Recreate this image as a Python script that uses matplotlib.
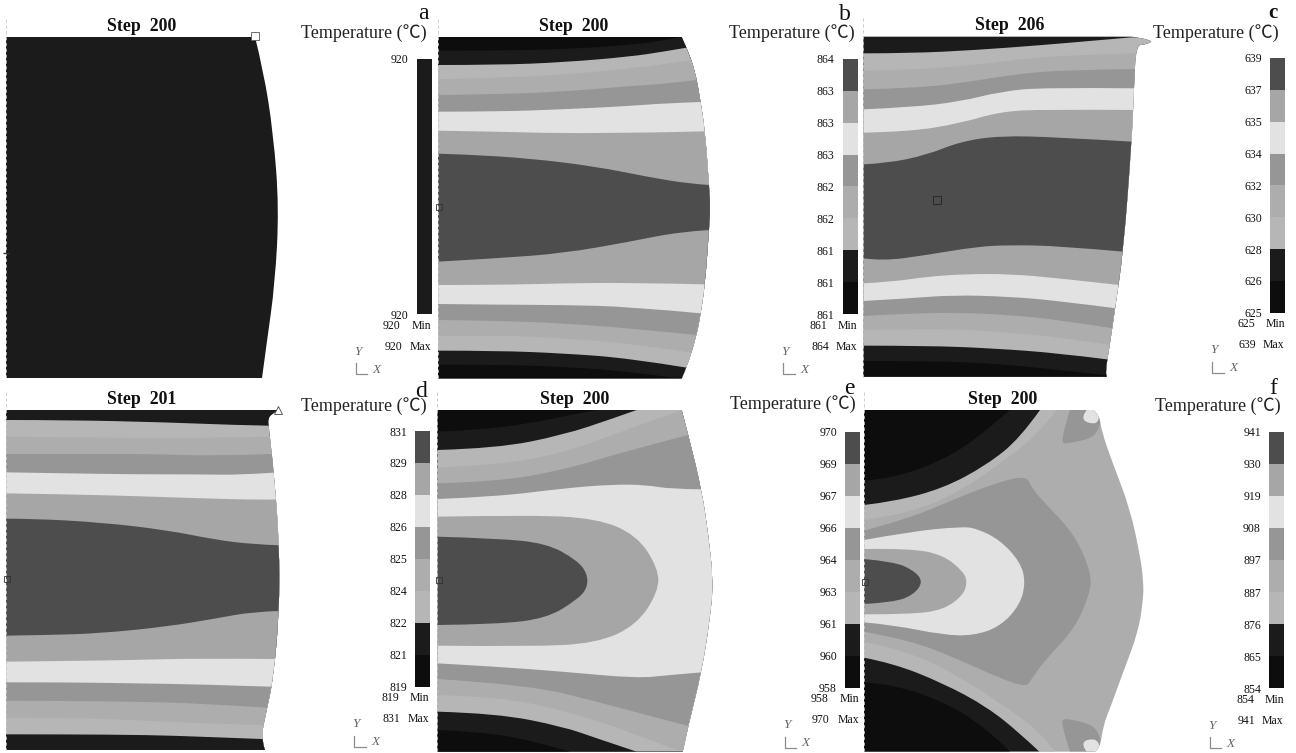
import matplotlib
matplotlib.use("Agg")
import matplotlib.pyplot as plt
from matplotlib.path import Path
from matplotlib.patches import PathPatch, Rectangle

W, H = 1296, 753
SERIF = ["Liberation Serif", "Noto Sans CJK SC", "DejaVu Sans"]
plt.rcParams["font.family"] = SERIF

# gray of each temperature band, 1 = coolest band of the colour bar
GRAYS = {1: "#0d0d0d", 2: "#1b1b1b", 3: "#b6b6b6", 4: "#adadad",
         5: "#969696", 6: "#e2e2e2", 7: "#a6a6a6", 8: "#4d4d4d"}

# colour bar labels, bottom to top
TICKS_A = ["920", "920"]
TICKS_B = ["861", "861", "861", "862", "862", "863", "863", "863", "864"]
TICKS_C = ["625", "626", "628", "630", "632", "634", "635", "637", "639"]
TICKS_D = ["819", "821", "822", "824", "825", "826", "828", "829", "831"]
TICKS_E = ["958", "960", "961", "963", "964", "966", "967", "969", "970"]
TICKS_F = ["854", "865", "876", "887", "897", "908", "919", "930", "941"]

# contour geometry below: picture coordinates of each panel, 3 units per pixel
# panel a
EDGE_A = [(765, 111), (790, 210), (820, 400), (837, 624), (825, 850), (800, 1030), (786, 1134)]

# panel b
EDGE_B = [(755, 111), (770, 143), (795, 210), (812, 306), (825, 394), (837, 555), (841, 624),
          (837, 690), (825, 853), (812, 940), (800, 1005), (770, 1103), (755, 1135)]
LEVELS_B = [2, 3, 4, 5, 6, 7, 8, 7, 6, 5, 4, 3, 2, 1]
BOUNDS_B = [
    [(24, 152), (200, 152), (400, 148), (600, 135), (700, 122), (755, 110)],
    [(24, 195), (200, 195), (400, 187), (600, 170), (700, 155), (770, 143)],
    [(24, 238), (200, 233), (400, 225), (600, 205), (700, 193), (790, 180)],
    [(24, 285), (200, 283), (400, 275), (600, 258), (700, 252), (800, 240)],
    [(24, 335), (200, 335), (400, 328), (600, 318), (700, 310), (812, 306)],
    [(24, 392), (200, 395), (400, 400), (600, 398), (700, 397), (825, 394)],
    [(24, 461), (100, 463), (300, 475), (500, 500), (650, 530), (780, 552), (840, 555)],
    [(24, 785), (200, 775), (400, 760), (600, 725), (750, 695), (840, 690)],
    [(24, 855), (200, 855), (400, 850), (600, 848), (825, 853)],
    [(24, 912), (200, 914), (400, 915), (600, 920), (812, 940)],
    [(24, 960), (200, 962), (400, 970), (600, 985), (800, 1005)],
    [(24, 1008), (200, 1005), (400, 1015), (600, 1030), (785, 1058)],
    [(24, 1052), (200, 1052), (400, 1060), (600, 1075), (770, 1103)],
    [(24, 1094), (200, 1094), (400, 1100), (600, 1115), (730, 1133)],
]

# panel c
EDGE_C = [(815, 110), (885, 120), (855, 135), (828, 135), (822, 265), (815, 425), (790, 755),
          (765, 925), (750, 1030), (735, 1120), (740, 1130)]
LEVELS_C = [3, 4, 5, 6, 7, 8, 7, 6, 5, 4, 3, 2, 1]
BOUNDS_C = [
    [(10, 160), (150, 160), (350, 150), (550, 135), (700, 122), (815, 112)],
    [(10, 212), (150, 210), (350, 195), (500, 175), (650, 165), (825, 160)],
    [(10, 268), (150, 265), (300, 250), (450, 225), (600, 210), (825, 207)],
    [(10, 328), (150, 322), (300, 305), (420, 275), (550, 262), (825, 265)],
    [(10, 398), (150, 395), (300, 370), (420, 335), (550, 328), (825, 330)],
    [(10, 493), (80, 490), (200, 465), (300, 425), (420, 407), (600, 412), (815, 425)],
    [(10, 775), (70, 783), (200, 765), (350, 740), (450, 735), (600, 738), (790, 755)],
    [(10, 850), (100, 845), (200, 830), (320, 822), (450, 822), (600, 835), (778, 855)],
    [(10, 903), (150, 895), (280, 885), (450, 890), (600, 903), (768, 925)],
    [(10, 948), (150, 940), (300, 938), (450, 945), (600, 960), (760, 985)],
    [(10, 990), (150, 988), (300, 988), (450, 998), (600, 1012), (752, 1035)],
    [(10, 1037), (200, 1037), (400, 1045), (600, 1060), (740, 1078)],
    [(10, 1083), (200, 1083), (400, 1090), (600, 1110), (735, 1125)],
]

# panel d
EDGE_D = [(835, 75), (815, 88), (805, 100), (806, 125), (822, 265), (838, 480), (838, 680),
          (820, 880), (800, 975), (782, 1060), (795, 1095)]
LEVELS_D = [3, 4, 5, 6, 7, 8, 7, 6, 5, 4, 3, 2]
BOUNDS_D = [
    [(18, 105), (200, 105), (500, 112), (700, 120), (805, 122)],
    [(18, 155), (300, 158), (600, 160), (810, 155)],
    [(18, 207), (300, 207), (450, 207), (650, 213), (815, 207)],
    [(18, 262), (200, 265), (400, 268), (600, 268), (720, 270), (820, 263)],
    [(18, 325), (200, 328), (400, 333), (600, 340), (800, 345), (828, 343)],
    [(18, 401), (100, 401), (300, 412), (500, 435), (650, 465), (760, 478), (838, 481)],
    [(18, 752), (150, 750), (300, 745), (500, 725), (650, 700), (760, 680), (838, 678)],
    [(18, 830), (200, 828), (400, 825), (600, 820), (820, 822)],
    [(18, 892), (200, 892), (400, 895), (600, 898), (810, 905)],
    [(18, 947), (200, 948), (400, 950), (600, 955), (800, 968)],
    [(18, 998), (200, 998), (400, 1005), (600, 1015), (785, 1020)],
    [(18, 1048), (200, 1048), (450, 1050), (600, 1055), (785, 1062)],
]

# panel e
EDGE_E = [(755, 75), (775, 150), (815, 315), (835, 450), (850, 590), (840, 700), (815, 860),
          (775, 1020), (758, 1100)]
LEVELS_E = [2, 3, 4, 5, 6, 5, 4, 3, 2, 1]
BOUNDS_E = [
    [(22, 140), (150, 135), (300, 115), (420, 90), (500, 75)],
    [(22, 195), (200, 190), (400, 150), (550, 100), (620, 75)],
    [(22, 248), (200, 240), (400, 205), (600, 130), (750, 77)],
    [(22, 295), (200, 290), (400, 255), (600, 195), (775, 150)],
    [(22, 342), (200, 335), (400, 310), (550, 298), (650, 300), (720, 312), (815, 313)],
    [(22, 835), (200, 845), (400, 860), (620, 880), (720, 870), (815, 862)],
    [(22, 882), (300, 900), (500, 950), (650, 990), (775, 1023)],
    [(22, 930), (200, 935), (400, 975), (600, 1040), (740, 1095)],
    [(22, 980), (200, 985), (400, 1025), (500, 1060), (620, 1100)],
    [(22, 1035), (150, 1040), (300, 1065), (420, 1100)],
]
LOOP_E7 = [(22, 395), (300, 390), (500, 400), (620, 450), (685, 550), (685, 620), (620, 720),
           (500, 775), (300, 785), (22, 782)]
LOOP_E8 = [(22, 455), (200, 460), (350, 475), (440, 525), (472, 565), (472, 610), (440, 645),
           (350, 700), (200, 718), (22, 720)]

# panel f
EDGE_F = [(700, 75), (718, 90), (725, 140), (760, 240), (810, 370), (842, 520), (850, 590),
          (850, 640), (835, 740), (790, 860), (750, 970), (730, 1020), (720, 1090), (705, 1100)]
TOP3_F = [(12, 405), (150, 385), (300, 320), (450, 215), (540, 140), (590, 75)]
TOP2_F = [(12, 360), (100, 350), (250, 310), (380, 240), (480, 160), (540, 75)]
TOP1_F = [(12, 287), (100, 280), (250, 225), (350, 160), (420, 100), (450, 75)]
LOW3_F = [(12, 770), (150, 800), (300, 875), (450, 975), (540, 1040), (585, 1100)]
LOW2_F = [(12, 818), (100, 835), (250, 895), (380, 965), (480, 1045), (538, 1100)]
LOW1_F = [(12, 892), (100, 898), (250, 950), (350, 1010), (420, 1070), (450, 1100)]
LOOP_F5 = [(12, 437), (150, 400), (300, 335), (420, 290), (500, 272), (515, 310), (560, 360),
           (645, 450), (692, 560), (692, 620), (645, 730), (560, 820), (515, 880), (500, 907),
           (420, 880), (300, 825), (150, 765), (12, 740)]
LOOP_F6 = [(12, 465), (150, 440), (300, 425), (350, 430), (420, 465), (480, 530), (497, 590),
           (480, 660), (420, 725), (340, 752), (250, 750), (100, 720), (12, 712)]
LOOP_F7 = [(12, 492), (150, 490), (250, 510), (310, 560), (322, 590), (310, 630), (250, 675),
           (150, 688), (12, 688)]
LOOP_F8 = [(12, 522), (100, 530), (160, 555), (190, 590), (160, 630), (100, 652), (12, 657)]
CORNER_TOP5_F = [(630, 75), (600, 170), (620, 178), (730, 150), (720, 75)]
CORNER_TOP6_F = [(680, 75), (665, 95), (680, 115), (722, 115), (715, 75)]
CORNER_LOW5_F = [(630, 1100), (600, 1010), (620, 998), (730, 1030), (720, 1100)]
CORNER_LOW6_F = [(680, 1100), (665, 1080), (680, 1062), (720, 1065), (720, 1100)]


def smooth_path(curve, corners=()):
    # curve runs through the midpoints of its read points, corners stay sharp
    verts = [curve[0]]
    codes = [Path.MOVETO]
    for i in range(1, len(curve) - 1):
        if i == len(curve) - 2:
            end = curve[-1]
        else:
            end = ((curve[i][0] + curve[i + 1][0]) / 2, (curve[i][1] + curve[i + 1][1]) / 2)
        verts += [curve[i], end]
        codes += [Path.CURVE3, Path.CURVE3]
    if len(curve) == 2:
        verts.append(curve[1])
        codes.append(Path.LINETO)
    for c in corners:
        verts.append(c)
        codes.append(Path.LINETO)
    verts.append(curve[0])
    codes.append(Path.CLOSEPOLY)
    return Path(verts, codes)


def make_panel(box):
    x, y, w, h = box
    ax = fig.add_axes([x / W, 1 - (y + h) / H, w / W, h / H])
    ax.set_xlim(0, 3 * w)
    ax.set_ylim(3 * h, 0)
    ax.axis("off")
    ax.patch.set_alpha(0)
    return ax


def add_shape(ax, outline, level, curve, corners=()):
    patch = PathPatch(smooth_path(curve, corners), facecolor=GRAYS[level], lw=0, zorder=2)
    ax.add_patch(patch)
    patch.set_clip_path(outline)


def draw_bands(ax, outline, levels, bounds):
    right, bottom = ax.get_xlim()[1], ax.get_ylim()[0]
    for level, curve in zip(levels, bounds):
        corners = [(right, curve[-1][1]), (right, bottom), (curve[0][0], bottom)]
        add_shape(ax, outline, level, curve, corners)


def draw_outline(ax, base, edge, left, top, bottom):
    # the base colour is clipped like the bands, so it cannot leak along the edge
    patch = PathPatch(smooth_path(edge, [(left, bottom), (left, top)]),
                      facecolor="none", edgecolor="none", lw=0, zorder=0)
    ax.add_patch(patch)
    rect = Rectangle((0, 0), ax.get_xlim()[1], ax.get_ylim()[0], facecolor=GRAYS[base], lw=0, zorder=1)
    ax.add_patch(rect)
    rect.set_clip_path(patch)
    ax.plot([left, left], [top - 55, bottom], color="#c6c6c6", lw=0.6, ls=(0, (4, 3)), zorder=3)
    return patch


def draw_labels(ax, box, info):
    # title, letter, colour bar and legend text of one panel
    ax.text(info["title_x"], info["title_y"] + 2, info["title"], ha="center", va="center",
            fontsize=12.8, fontweight="bold", color="#111111")
    ax.text(info["temp_x"], info["temp_y"] + 2, "Temperature (℃)", ha="right", va="center",
            fontsize=13, color="#222222", family=SERIF)
    ax.text(info["letter_x"], info["letter_y"], info["letter"], ha="center", va="center",
            fontsize=info.get("letter_size", 17), color="#111111",
            fontweight=info.get("letter_weight", "normal"))
    for text, x, y in info["rows"]:
        ax.text(x, y, text, ha="center", va="center", fontsize=8.5, color="#111111")
    cx, cy = info["corner"]
    ax.plot([cx, cx, cx + 34], [cy - 33, cy, cy], color="#8c8c8c", lw=0.9, zorder=3)
    ax.text(cx + 5, cy - 67, "Y", ha="center", va="center", fontsize=9.5, style="italic", color="#666666")
    ax.text(cx + 63, cy - 13, "X", ha="center", va="center", fontsize=9.5, style="italic", color="#666666")

    # colour bar, built bottom to top from the tick labels
    x0, y0, x1, y1 = info["bar"]
    bar = fig.add_axes([(box[0] + x0 / 3) / W, 1 - (box[1] + y1 / 3) / H,
                        (x1 - x0) / 3 / W, (y1 - y0) / 3 / H])
    ticks = info["ticks"]
    n = len(ticks) - 1
    levels = [2] if n == 1 else list(range(1, n + 1))
    bar.bar([0] * n, [1] * n, bottom=list(range(n)), width=1,
            color=[GRAYS[k] for k in levels], linewidth=0)
    bar.set_xlim(-0.5, 0.5)
    bar.set_ylim(0, n)
    bar.set_xticks([])
    bar.set_yticks(range(n + 1))
    bar.set_yticklabels(ticks, fontsize=8.5, color="#111111")
    bar.tick_params(axis="y", length=0, pad=5.8)
    for s in bar.spines.values():
        s.set_visible(False)


fig = plt.figure(figsize=(W / 100, H / 100), dpi=100, facecolor="white")

# panel boxes in figure pixels
BOX_A = (0, 0, 430, 385)
BOX_B = (430, 0, 430, 385)
BOX_C = (860, 0, 436, 385)
BOX_D = (0, 385, 430, 368)
BOX_E = (430, 385, 430, 368)
BOX_F = (860, 385, 436, 368)

# a
ax = make_panel(BOX_A)
draw_outline(ax, 2, EDGE_A, 18, 111, 1134)
ax.plot(EDGE_A[0][0], 108, marker="s", ms=5.5, mfc="white", mec="#555555", mew=0.6, zorder=4)
ax.plot(18, 758, marker="_", ms=5, color="#333333", zorder=4)
draw_labels(ax, BOX_A, dict(title="Step  200", title_x=426, title_y=78, temp_x=1280, temp_y=98,
                            letter="a", letter_x=1270, letter_y=40, ticks=TICKS_A,
                            bar=(1250, 176, 1295, 943), corner=(1068, 1122),
                            rows=[("920", 1175, 978), ("Min", 1263, 978),
                                  ("920", 1180, 1040), ("Max", 1260, 1040)]))

# b
ax = make_panel(BOX_B)
draw_bands(ax, draw_outline(ax, 1, EDGE_B, 24, 111, 1135), LEVELS_B, BOUNDS_B)
ax.plot(28, 621, marker="s", ms=5, mfc="none", mec="#333333", mew=0.6, zorder=4)
draw_labels(ax, BOX_B, dict(title="Step  200", title_x=430, title_y=78, temp_x=1275, temp_y=98,
                            letter="b", letter_x=1245, letter_y=42, ticks=TICKS_B,
                            bar=(1238, 176, 1283, 943), corner=(1060, 1122),
                            rows=[("861", 1165, 978), ("Min", 1253, 978),
                                  ("864", 1170, 1040), ("Max", 1250, 1040)]))

# c
ax = make_panel(BOX_C)
draw_bands(ax, draw_outline(ax, 2, EDGE_C, 10, 110, 1130), LEVELS_C, BOUNDS_C)
ax.plot(232, 600, marker="s", ms=6, mfc="none", mec="#222222", mew=0.6, zorder=4)
draw_labels(ax, BOX_C, dict(title="Step  206", title_x=448, title_y=76, temp_x=1255, temp_y=98,
                            letter="c", letter_x=1240, letter_y=38, letter_weight="bold", letter_size=15,
                            ticks=TICKS_C, bar=(1230, 174, 1275, 938), corner=(1057, 1118),
                            rows=[("625", 1160, 972), ("Min", 1245, 972),
                                  ("639", 1163, 1035), ("Max", 1240, 1035)]))

# d
ax = make_panel(BOX_D)
draw_bands(ax, draw_outline(ax, 2, EDGE_D, 18, 75, 1095), LEVELS_D, BOUNDS_D)
ax.plot(20, 582, marker="s", ms=5, mfc="none", mec="#333333", mew=0.6, zorder=4)
ax.plot(835, 76, marker="^", ms=6, mfc="white", mec="#444444", mew=0.6, zorder=4)
draw_labels(ax, BOX_D, dict(title="Step  201", title_x=425, title_y=42, temp_x=1280, temp_y=62,
                            letter="d", letter_x=1262, letter_y=20, ticks=TICKS_D,
                            bar=(1245, 138, 1290, 905), corner=(1063, 1085),
                            rows=[("819", 1170, 938), ("Min", 1258, 938),
                                  ("831", 1173, 1002), ("Max", 1255, 1002)]))

# e
ax = make_panel(BOX_E)
outline = draw_outline(ax, 1, EDGE_E, 22, 75, 1100)
draw_bands(ax, outline, LEVELS_E, BOUNDS_E)
add_shape(ax, outline, 7, LOOP_E7)
add_shape(ax, outline, 8, LOOP_E8)
ax.plot(27, 585, marker="s", ms=5, mfc="none", mec="#333333", mew=0.6, zorder=4)
draw_labels(ax, BOX_E, dict(title="Step  200", title_x=433, title_y=42, temp_x=1278, temp_y=55,
                            letter="e", letter_x=1257, letter_y=12, ticks=TICKS_E,
                            bar=(1245, 140, 1290, 908), corner=(1065, 1088),
                            rows=[("958", 1170, 942), ("Min", 1258, 942),
                                  ("970", 1173, 1005), ("Max", 1255, 1005)]))

# f
ax = make_panel(BOX_F)
outline = draw_outline(ax, 4, EDGE_F, 12, 75, 1100)
add_shape(ax, outline, 3, TOP3_F, [(12, 75)])
add_shape(ax, outline, 2, TOP2_F, [(12, 75)])
add_shape(ax, outline, 1, TOP1_F, [(12, 75)])
add_shape(ax, outline, 3, LOW3_F, [(12, 1100)])
add_shape(ax, outline, 2, LOW2_F, [(12, 1100)])
add_shape(ax, outline, 1, LOW1_F, [(12, 1100)])
add_shape(ax, outline, 5, LOOP_F5)
add_shape(ax, outline, 6, LOOP_F6)
add_shape(ax, outline, 7, LOOP_F7)
add_shape(ax, outline, 8, LOOP_F8)
add_shape(ax, outline, 5, CORNER_TOP5_F)
add_shape(ax, outline, 6, CORNER_TOP6_F)
add_shape(ax, outline, 5, CORNER_LOW5_F)
add_shape(ax, outline, 6, CORNER_LOW6_F)
ax.plot(14, 590, marker="s", ms=5, mfc="none", mec="#333333", mew=0.6, zorder=4)
draw_labels(ax, BOX_F, dict(title="Step  200", title_x=428, title_y=42, temp_x=1262, temp_y=62,
                            letter="f", letter_x=1240, letter_y=12, ticks=TICKS_F,
                            bar=(1227, 140, 1272, 910), corner=(1050, 1090),
                            rows=[("854", 1155, 945), ("Min", 1242, 945),
                                  ("941", 1158, 1008), ("Max", 1238, 1008)]))

fig.savefig("out.png", dpi=100)
